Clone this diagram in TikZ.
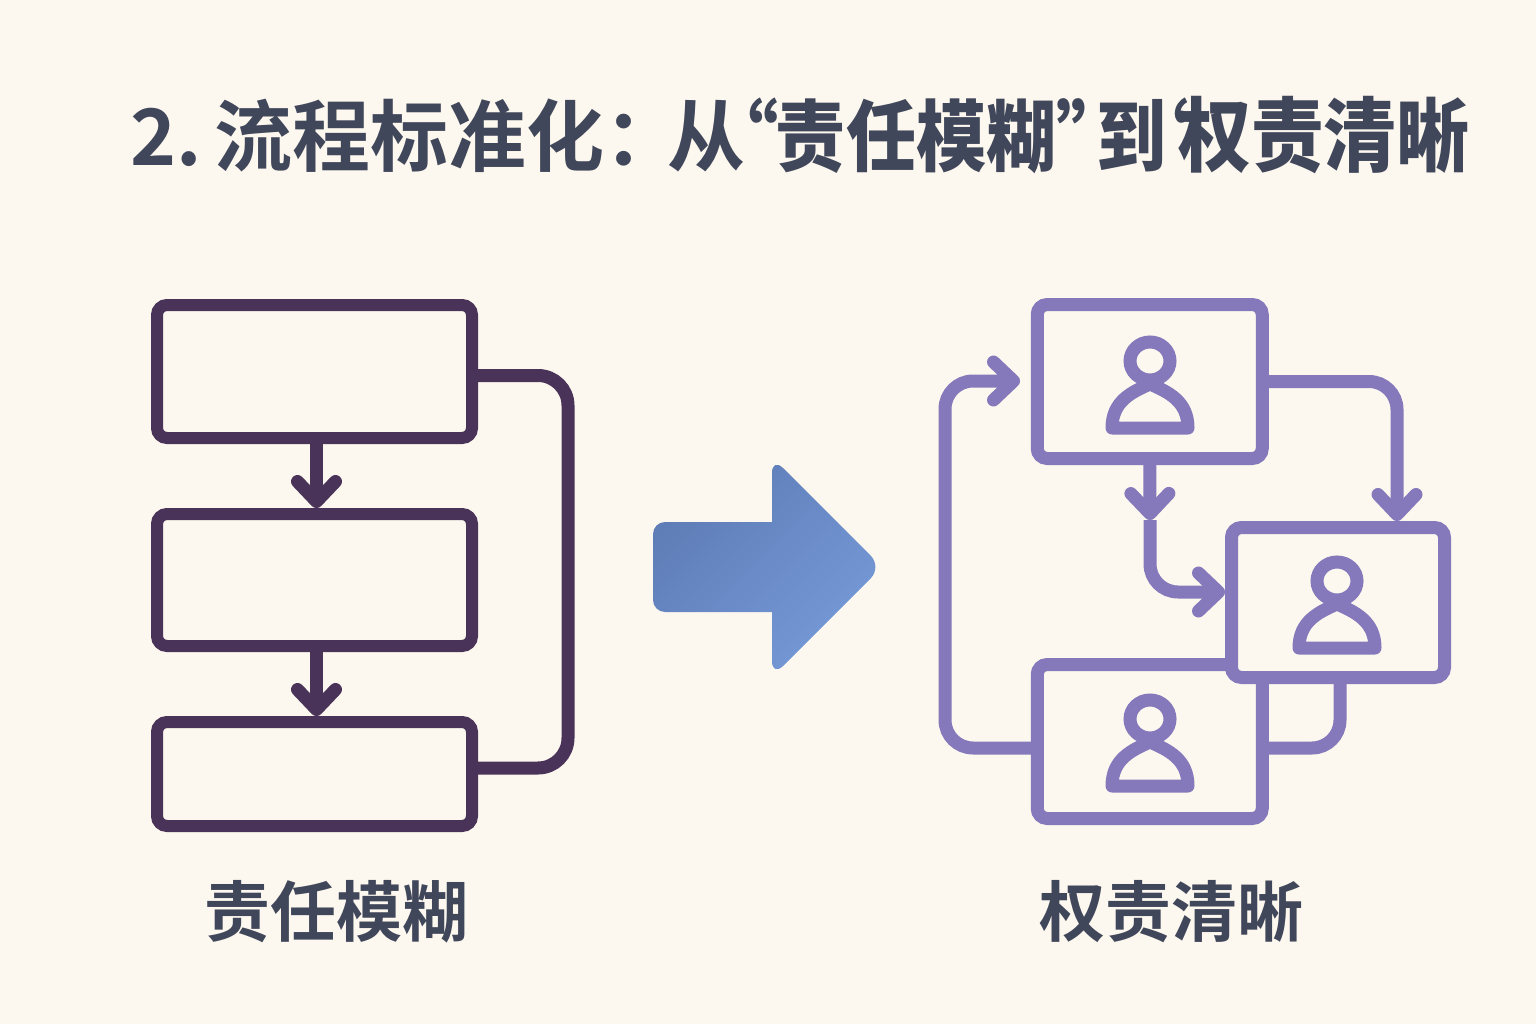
\documentclass[tikz,border=0pt]{standalone}
\usepackage{fontspec}
\setmainfont{Noto Sans CJK SC}[BoldFont={Noto Sans CJK SC Bold}]
\newfontfamily\narrowcjk{Noto Sans CJK SC Bold}[FakeStretch=0.9]
\usetikzlibrary{arrows.meta,calc}
\definecolor{pagebg}{HTML}{FDF8EF}
\definecolor{inkgray}{HTML}{41475A}
\definecolor{plumline}{HTML}{4A3358}
\definecolor{violetline}{HTML}{8579BB}
\definecolor{arrowdark}{HTML}{5E7CB6}
\definecolor{arrowlight}{HTML}{769AD8}
\tikzset{
  plumbox/.style={draw=plumline,line width=12pt,rounded corners=10pt,minimum width=315pt,inner sep=0pt},
  rolebox/.style={draw=violetline,fill=pagebg,line width=13pt,rounded corners=10pt,minimum width=225pt,minimum height=154pt,inner sep=0pt},
  plumlink/.style={draw=plumline,line width=13pt,rounded corners=30pt},
  rolelink/.style={draw=violetline,line width=13pt,rounded corners=28pt},
  barb/.style={-{Straight Barb[round,length=20pt,width=38pt]}},
  caption/.style={text=inkgray,font=\bfseries\fontsize{66}{80}\selectfont,inner sep=0pt},
  person/.pic={
    \draw[violetline,line width=13pt] (0,0) ellipse (20 and 19);
    \draw[violetline,line width=13pt,line join=round] (0,23) .. controls (-18,31) and (-38,40) .. (-38,67)
      -- (38,67) .. controls (38,40) and (18,31) .. (0,23) -- cycle;
  }
}

\begin{document}
\begin{tikzpicture}[x=1pt,y=-1pt]
         \fill[pagebg] (0,0) rectangle (1536,1024);
         \useasboundingbox (0,0) rectangle (1536,1024);
         \node[anchor=west,text=inkgray,inner sep=0pt,font=\bfseries\fontsize{78}{90}\selectfont] (title) at (130,135)
           {2.\,流程标准化：\kern-15pt从\kern-37pt{\narrowcjk“\kern-3pt责任模糊”\kern-30pt到\kern-48pt‘\kern-11pt\fontsize{81}{90}\selectfont 权责清晰}};
         \node[plumbox,minimum height=133pt] (boxTop) at (314.5,371.5) {};
         \node[plumbox,minimum height=132pt] (boxMid) at (314.5,580) {};
         \node[plumbox,minimum height=104pt] (boxLow) at (314.5,774) {};
         \draw[plumlink,barb] ([xshift=2pt]boxTop.south) -- ([xshift=2pt]boxMid.north);
         \draw[plumlink,barb] ([xshift=2pt]boxMid.south) -- ([xshift=2pt]boxLow.north);
         \draw[plumlink] ([yshift=-4pt]boxTop.east) -| (568,500) |- ([yshift=6pt]boxLow.east);
         \shade[top color=arrowdark,bottom color=arrowlight,shading angle=45]
           (772,522) [rounded corners=16pt] -- (772,457) -- (882,567) -- (772,677) [sharp corners] -- (772,612)
           [rounded corners=12pt] -- (653,612) -- (653,522) [sharp corners] -- cycle;
         \node[rolebox] (boxA) at (1149.75,381.5) {};
         \node[rolebox] (boxC) at (1149.75,741.5) {};
         \node[rolebox,minimum width=213pt,minimum height=150pt] (boxB) at (1338,602.5) {};
         \pic at (1150,361) {person};
         \pic at (1337,581) {person};
         \pic at (1150,719) {person};
         \coordinate (midA) at (1150,520);
         \coordinate (entryA) at (1020,381);
         \draw[rolelink,barb] (boxA.south) -- (midA);
         \draw[rolelink,barb] (midA) |- ([yshift=10.5pt]boxB.west);
         \draw[rolelink,barb] (boxA.east) -| ([xshift=59pt]boxB.north);
         \draw[rolelink] ([yshift=-6.5pt]boxC.east) -| ([xshift=2pt]boxB.south);
         \draw[rolelink,barb] ([yshift=-6.5pt]boxC.west) -| (945,500) |- (entryA);
         \node[caption] (leftcap) at (336,912) {责任模糊};
         \node[caption] (rightcap) at (1171,912) {权责清晰};
\end{tikzpicture}
\end{document}
